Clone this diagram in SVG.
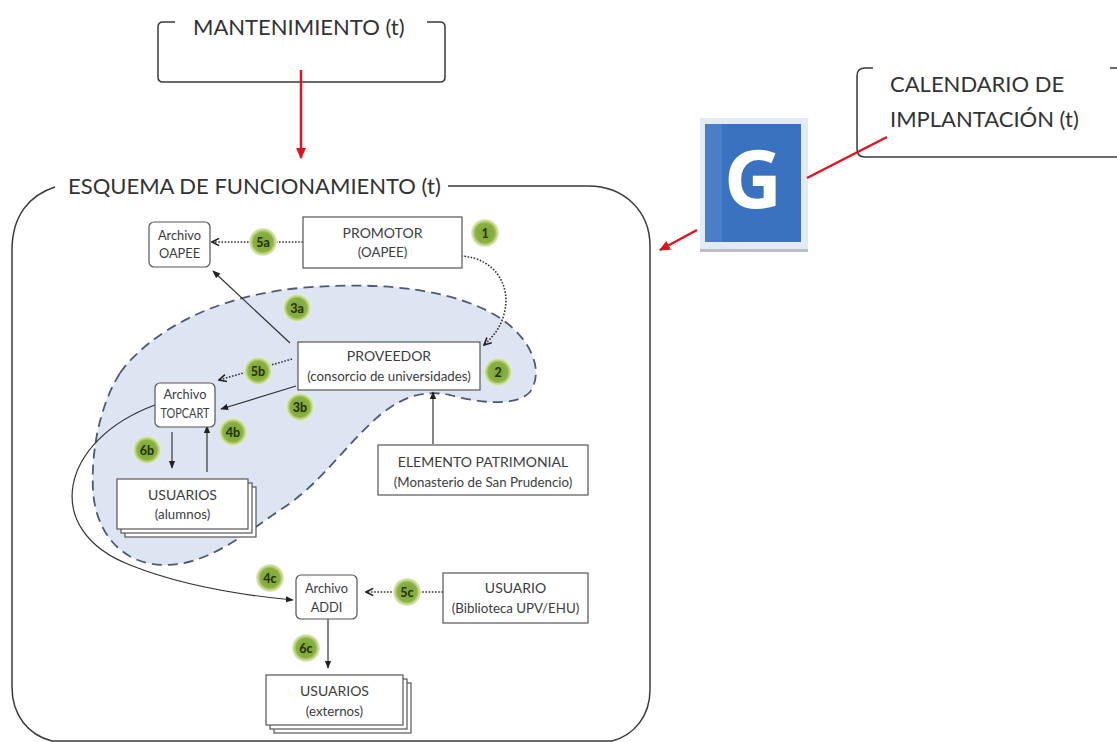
<svg xmlns="http://www.w3.org/2000/svg" width="1117" height="742" viewBox="0 0 1117 742">
  <style>
    .frame { fill: none; stroke: #3a3a3a; stroke-width: 1.5; }
    .title { font-family: Lato, "Liberation Sans", sans-serif; font-size: 22px; fill: #333; }
    .box { fill: #fff; stroke: #555; stroke-width: 1.2; }
    .lbl { font-family: Lato, "Liberation Sans", sans-serif; font-size: 14px; fill: #3c3c3c; text-anchor: middle; }
    .sub { font-family: Lato, "Liberation Sans", sans-serif; font-size: 13.3px; fill: #3c3c3c; text-anchor: middle; }
    .arc { font-family: Lato, "Liberation Sans", sans-serif; font-size: 12.8px; fill: #3c3c3c; text-anchor: middle; }
    .solid { fill: none; stroke: #333; stroke-width: 1.2; marker-end: url(#ah); }
    .dot { fill: none; stroke: #333; stroke-width: 1.6; stroke-dasharray: 1.6 1.6; marker-end: url(#ahOpen); }
    .red { fill: none; stroke: #e0141e; stroke-width: 2.5; }
    .badge { fill: url(#badgeFill); }
    .bt { font-family: Lato, "Liberation Sans", sans-serif; font-size: 12.5px; font-weight: bold; fill: #25300c; text-anchor: middle; }
  </style>
  <defs>
    <marker id="ah" viewBox="0 0 10 10" refX="9" refY="5" markerWidth="8" markerHeight="8" markerUnits="userSpaceOnUse" orient="auto">
      <path d="M0,1 L10,5 L0,9 z" fill="#222"/>
    </marker>
    <marker id="ahOpen" viewBox="0 0 10 10" refX="9" refY="5" markerWidth="9" markerHeight="9" markerUnits="userSpaceOnUse" orient="auto">
      <path d="M1,1 L9,5 L1,9" fill="none" stroke="#222" stroke-width="1.8"/>
    </marker>
    <marker id="ahRed" viewBox="0 0 10 10" refX="9" refY="5" markerWidth="11" markerHeight="11" markerUnits="userSpaceOnUse" orient="auto">
      <path d="M0,0.5 L10,5 L0,9.5 z" fill="#e0141e"/>
    </marker>
    <radialGradient id="badgeFill" cx="0.5" cy="0.5" r="0.5">
      <stop offset="0" stop-color="#7aa232"/>
      <stop offset="0.7" stop-color="#8ab143"/>
      <stop offset="0.8" stop-color="#b3cd70"/>
      <stop offset="1" stop-color="#e6efcf"/>
    </radialGradient>
  </defs>

  <rect width="1117" height="742" fill="#fff"/>

  <!-- MANTENIMIENTO bracket box -->
  <g id="mantenimiento">
    <path class="frame" d="M175,22 H163 Q158,22 158,27 V77 Q158,82 163,82 H440 Q445,82 445,77 V27 Q445,22 440,22 H427"/>
    <text class="title" x="193" y="35">MANTENIMIENTO (t)</text>
  </g>

  <!-- CALENDARIO bracket box -->
  <g id="calendario">
    <path class="frame" d="M873,68 H865 Q857,68 857,76 V149 Q857,157 865,157 H1120"/>
    <path class="frame" d="M1110,68 H1120"/>
    <text class="title" x="890" y="92">CALENDARIO DE</text>
    <text class="title" x="890" y="127">IMPLANTACIÓN (t)</text>
  </g>

  <!-- G tile -->
  <g id="g-icon">
    <rect x="700" y="118" width="108" height="134" fill="#e3eaf4"/>
    <rect x="700" y="249" width="108" height="3" fill="#b9bec6"/>
    <rect x="705" y="124" width="96" height="118" fill="#3b72bf"/>
    <rect x="705" y="124" width="17" height="118" fill="#4a7fc8"/>
    <text x="753" y="208" font-family="'Open Sans', Lato, sans-serif" font-weight="bold" font-size="80" fill="#fff" text-anchor="middle">G</text>
  </g>

  <!-- ESQUEMA outer frame -->
  <g id="esquema">
    <path class="frame" d="M55,187 C30,195 12,215 12,250 V687 C12,715 28,735 52,741 H612 C635,735 650,715 650,690 V246 C650,212 625,186 588,186 H448"/>
    <text class="title" x="68" y="194">ESQUEMA DE FUNCIONAMIENTO (t)</text>
  </g>

  <!-- provider area -->
  <g id="zona-proveedor">
    <path d="M120,373 C140,345 195,298 300,288 C390,280 460,292 500,318 C530,338 545,370 530,392 C515,408 475,402 450,395 C425,390 405,395 380,415 C345,445 320,485 280,510 C240,538 205,565 165,565 C120,565 95,530 93,490 C91,450 100,405 120,373 Z" fill="#dee5f2" stroke="#4d5a73" stroke-width="1.8" stroke-dasharray="10 6"/>
  </g>

  <!-- connectors -->
  <g id="connectors">
    <line class="red" x1="301" y1="70" x2="301" y2="158" marker-end="url(#ahRed)"/>
    <line class="red" x1="807" y1="178" x2="887" y2="137"/>
    <line class="red" x1="697" y1="230" x2="660" y2="250" marker-end="url(#ahRed)"/>

    <line class="dot" x1="303" y1="242" x2="212" y2="242"/>
    <path class="dot" d="M461,256 C495,258 510,285 505,310 C502,325 495,335 484,345"/>
    <line class="solid" x1="290" y1="343" x2="213" y2="271"/>
    <line class="dot" x1="292" y1="359" x2="219" y2="380"/>
    <line class="solid" x1="296" y1="386" x2="221" y2="409"/>
    <line class="solid" x1="433" y1="444" x2="433" y2="392"/>
    <line class="solid" x1="172" y1="432" x2="172" y2="468"/>
    <line class="solid" x1="207" y1="472" x2="207" y2="426"/>
    <path class="solid" d="M155,405 C60,440 40,530 130,565 C180,585 240,595 293,600"/>
    <line class="dot" x1="443" y1="592" x2="366" y2="592"/>
    <line class="solid" x1="328" y1="619" x2="328" y2="668"/>
  </g>

  <g id="archivo-oapee">
    <rect class="box" x="149" y="222" width="61" height="45" rx="5"/>
    <text class="arc" x="179.5" y="240">Archivo</text>
    <text class="arc" x="179.5" y="258">OAPEE</text>
  </g>

  <g id="promotor">
    <rect class="box" x="303" y="217" width="159" height="51"/>
    <text class="lbl" x="382.5" y="238">PROMOTOR</text>
    <text class="sub" x="382.5" y="257">(OAPEE)</text>
  </g>

  <g id="proveedor">
    <rect class="box" x="298" y="342" width="182" height="48"/>
    <text class="lbl" x="389" y="361">PROVEEDOR</text>
    <text class="sub" x="389" y="381">(consorcio de universidades)</text>
  </g>

  <g id="archivo-topcart">
    <rect class="box" x="155" y="383" width="60" height="44" rx="5"/>
    <text class="arc" x="185" y="399">Archivo</text>
    <text class="arc" x="185" y="418" textLength="49" lengthAdjust="spacingAndGlyphs">TOPCART</text>
  </g>

  <g id="elemento-patrimonial">
    <rect class="box" x="378" y="445" width="210" height="50"/>
    <text class="lbl" x="483" y="467">ELEMENTO PATRIMONIAL</text>
    <text class="sub" x="483" y="487">(Monasterio de San Prudencio)</text>
  </g>

  <g id="usuarios-alumnos">
    <rect class="box" x="125" y="487" width="131" height="50"/>
    <rect class="box" x="121" y="483" width="131" height="50"/>
    <rect class="box" x="117" y="479" width="131" height="50"/>
    <text class="lbl" x="182.5" y="500">USUARIOS</text>
    <text class="sub" x="182.5" y="519">(alumnos)</text>
  </g>

  <g id="archivo-addi">
    <rect class="box" x="296" y="575" width="61" height="44" rx="5"/>
    <text class="arc" x="326.5" y="593">Archivo</text>
    <text class="arc" x="326.5" y="612">ADDI</text>
  </g>

  <g id="usuario-biblioteca">
    <rect class="box" x="443" y="573" width="145" height="50"/>
    <text class="lbl" x="515.5" y="593">USUARIO</text>
    <text class="sub" x="515.5" y="613">(Biblioteca UPV/EHU)</text>
  </g>

  <g id="usuarios-externos">
    <rect class="box" x="274" y="683" width="137" height="50"/>
    <rect class="box" x="270" y="679" width="137" height="50"/>
    <rect class="box" x="266" y="675" width="137" height="50"/>
    <text class="lbl" x="334.5" y="696">USUARIOS</text>
    <text class="sub" x="334.5" y="716">(externos)</text>
  </g>

  <!-- step badges -->
  <g id="badges">
    <g id="b1"><circle class="badge" cx="485" cy="233" r="14"/><text class="bt" x="485" y="237.5">1</text></g>
    <g id="b5a"><circle class="badge" cx="263" cy="242" r="14"/><text class="bt" x="263" y="246.5">5a</text></g>
    <g id="b3a"><circle class="badge" cx="297" cy="308" r="14"/><text class="bt" x="297" y="312.5">3a</text></g>
    <g id="b5b"><circle class="badge" cx="258" cy="371" r="14"/><text class="bt" x="258" y="375.5">5b</text></g>
    <g id="b2"><circle class="badge" cx="498" cy="372" r="14"/><text class="bt" x="498" y="376.5">2</text></g>
    <g id="b3b"><circle class="badge" cx="300" cy="407" r="14"/><text class="bt" x="300" y="411.5">3b</text></g>
    <g id="b4b"><circle class="badge" cx="233" cy="432" r="14"/><text class="bt" x="233" y="436.5">4b</text></g>
    <g id="b6b"><circle class="badge" cx="147" cy="450" r="14"/><text class="bt" x="147" y="454.5">6b</text></g>
    <g id="b4c"><circle class="badge" cx="270" cy="578" r="14"/><text class="bt" x="270" y="582.5">4c</text></g>
    <g id="b5c"><circle class="badge" cx="407" cy="592" r="14"/><text class="bt" x="407" y="596.5">5c</text></g>
    <g id="b6c"><circle class="badge" cx="306" cy="648" r="14"/><text class="bt" x="306" y="652.5">6c</text></g>
  </g>
</svg>
